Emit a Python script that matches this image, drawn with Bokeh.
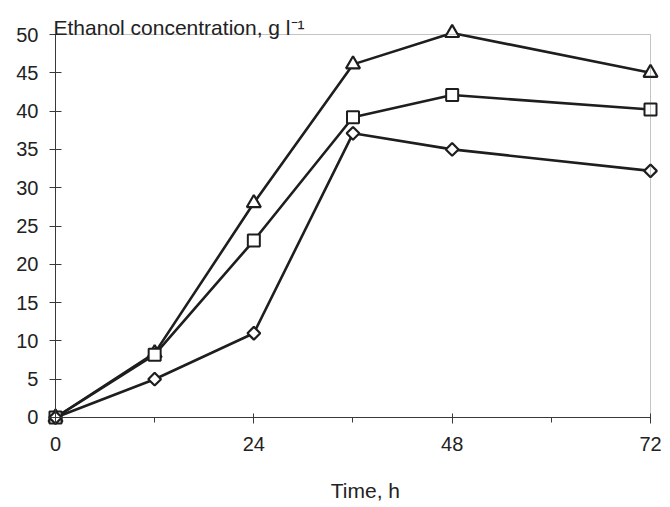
import math

from bokeh.embed import file_html
from bokeh.models import BoxAnnotation, FixedTicker, Label, Range1d
from bokeh.plotting import figure
from bokeh.resources import INLINE

# Fermentation time (h) and ethanol concentration (g/l) for three runs
hours = [0, 12, 24, 36, 48, 72]
ethanol_triangle = [0, 8.4, 28.0, 46.1, 50.2, 45.0]
ethanol_square = [0, 8.2, 23.1, 39.2, 42.1, 40.2]
ethanol_diamond = [0, 5.0, 11.0, 37.1, 35.0, 32.2]

x_major_ticks = [0, 24, 48, 72]
x_minor_ticks = [12, 36, 60]
y_major_ticks = [0, 5, 10, 15, 20, 25, 30, 35, 40, 45, 50]

X_MAX = 72
Y_MAX = 50

FONT = "Liberation Sans"
INK = "#1e1e1e"
AXIS_INK = "#3a3a3a"
TEXT_INK = "#222222"

# The frame fills the whole canvas; axes are pinned at the origin so that
# labels, titles and edge markers all fall inside the drawing area.
p = figure(
    width=670,
    height=507,
    x_range=Range1d(-6.655, 74.42),
    y_range=Range1d(-11.75, 54.44),
    output_backend="svg",
    toolbar_location=None,
    min_border_left=0,
    min_border_right=0,
    min_border_top=0,
    min_border_bottom=0,
)
p.background_fill_color = "white"
p.border_fill_color = "white"
p.outline_line_color = None
p.xgrid.visible = False
p.ygrid.visible = False

xa = p.xaxis[0]
xa.fixed_location = 0
xa.bounds = (0, X_MAX)
xa.ticker = FixedTicker(ticks=x_major_ticks, minor_ticks=x_minor_ticks)
xa.axis_line_color = AXIS_INK
xa.axis_line_width = 1
xa.major_tick_line_color = AXIS_INK
xa.major_tick_in = 4
xa.major_tick_out = 6
xa.minor_tick_line_color = AXIS_INK
xa.minor_tick_in = 0
xa.minor_tick_out = 5
xa.major_label_standoff = 14
xa.major_label_text_font = FONT
xa.major_label_text_font_size = "20px"
xa.major_label_text_color = TEXT_INK

ya = p.yaxis[0]
ya.fixed_location = 0
ya.bounds = (0, Y_MAX)
ya.ticker = FixedTicker(ticks=y_major_ticks)
ya.axis_line_color = AXIS_INK
ya.axis_line_width = 1
ya.major_tick_line_color = AXIS_INK
ya.major_tick_in = 6
ya.major_tick_out = 6
ya.minor_tick_line_color = None
ya.major_label_standoff = 11
ya.major_label_text_font = FONT
ya.major_label_text_font_size = "20px"
ya.major_label_text_color = TEXT_INK

# Top and right edges of the plot box
p.add_layout(BoxAnnotation(left=0, right=X_MAX, bottom=0, top=Y_MAX,
                           fill_color=None, line_color=AXIS_INK, line_width=1))

# Series lines
for ys in (ethanol_triangle, ethanol_square, ethanol_diamond):
    p.line(hours, ys, line_color=INK, line_width=2.6)

# Series markers
p.scatter(hours, ethanol_triangle, marker="triangle", size=14,
          fill_color="white", line_color=INK, line_width=2.2)
p.scatter(hours, ethanol_square, marker="square", size=12,
          fill_color="white", line_color=INK, line_width=2.0)
p.scatter(hours, ethanol_diamond, marker="square", angle=math.pi / 4, size=9,
          fill_color="white", line_color=INK, line_width=2.2)

# Axis titles
p.add_layout(Label(x=-0.24, y=Y_MAX + 0.9, text="Ethanol concentration, g l\u207b\u00b9",
                   text_align="left", text_baseline="alphabetic",
                   text_font=FONT, text_font_size="21px", text_color=TEXT_INK))
p.add_layout(Label(x=37.5, y=-9.5, text="Time, h",
                   text_align="center", text_baseline="middle",
                   text_font=FONT, text_font_size="21px", text_color=TEXT_INK))

open("out.html", "w").write(file_html(p, INLINE))
